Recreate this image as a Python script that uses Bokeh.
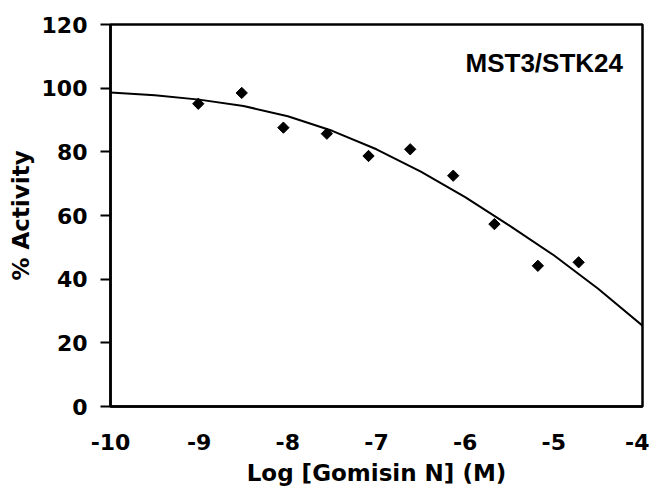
import numpy as np
from bokeh.plotting import figure
from bokeh.models import FixedTicker, Range1d, Label
from bokeh.embed import file_html
from bokeh.resources import INLINE

# measured data points
log_conc = [-9.01, -8.52, -8.05, -7.56, -7.09, -6.62, -6.135, -5.67, -5.18, -4.72]
activity = [95.1, 98.5, 87.6, 85.7, 78.7, 80.8, 72.5, 57.3, 44.2, 45.3]

# fitted curve
curve_x = [-10, -9.5, -9, -8.5, -8, -7.5, -7, -6.5, -6, -5.5, -5, -4.5, -4]
curve_y = [98.6, 97.8, 96.4, 94.4, 91.2, 86.6, 80.8, 73.8, 65.8, 56.8, 47.5, 37.0, 25.4]

x_ticks = [-10, -9, -8, -7, -6, -5, -4]
x_tick_labels = ["-10", "-9", "-8", "-7", "-6", "-5", "-4"]
y_ticks = [0, 20, 40, 60, 80, 100, 120]

TICK_FONT = "DejaVu Sans"

p = figure(width=649, height=492, output_backend="svg", toolbar_location=None,
           x_range=Range1d(-10, -4), y_range=Range1d(0, 120),
           min_border_left=110, min_border_top=24, min_border_right=7, min_border_bottom=86)
p.grid.visible = False
p.outline_line_color = "black"
p.outline_line_width = 2.5
p.background_fill_color = "white"
p.border_fill_color = "white"

p.line(curve_x, curve_y, line_color="black", line_width=2)
p.scatter(log_conc, activity, marker="square", angle=np.pi / 4, size=8,
          fill_color="black", line_color="black")

# axes
p.xaxis.ticker = FixedTicker(ticks=x_ticks)
p.yaxis.ticker = FixedTicker(ticks=y_ticks)
p.xaxis.major_label_overrides = {t: s for t, s in zip(x_ticks, x_tick_labels)}
for ax in (p.xaxis[0], p.yaxis[0]):
    ax.axis_line_color = "black"
    ax.axis_line_width = 2.5
    ax.major_tick_line_color = "black"
    ax.major_tick_line_width = 2
    ax.minor_tick_line_color = None
    ax.major_label_text_font = TICK_FONT
    ax.major_label_text_font_style = "bold"
    ax.major_label_text_font_size = "22px"
    ax.major_label_text_color = "black"
    ax.axis_label_text_font = TICK_FONT
    ax.axis_label_text_font_style = "bold"
    ax.axis_label_text_font_size = "23px"
    ax.axis_label_text_color = "black"

p.xaxis.major_tick_out = 0
p.xaxis.major_tick_in = 0
p.xaxis.major_label_standoff = 27
p.xaxis.axis_label = "Log [Gomisin N] (M)"
p.xaxis.axis_label_standoff = 7

p.yaxis.major_tick_out = 10
p.yaxis.major_tick_in = 0
p.yaxis.major_label_standoff = 13
p.yaxis.axis_label = "% Activity"
p.yaxis.axis_label_standoff = 5

lab = Label(x=-4.22, y=108, text="MST3/STK24", text_align="right",
            text_baseline="alphabetic", text_font="Liberation Sans",
            text_font_style="bold", text_font_size="26px", text_color="black")
p.add_layout(lab)

open("out.html", "w").write(file_html(p, INLINE))
